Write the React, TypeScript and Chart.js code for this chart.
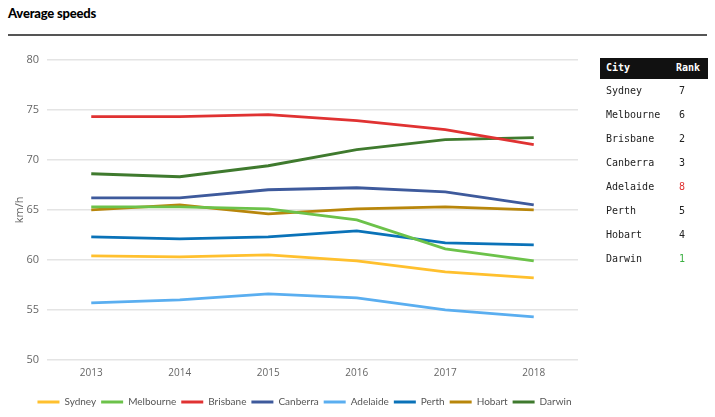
import React, { useEffect, useRef } from "react";
import { Chart, registerables } from "chart.js";

Chart.register(...registerables);

const years = ["2013", "2014", "2015", "2016", "2017", "2018"];
const cities = ["Sydney", "Melbourne", "Brisbane", "Canberra", "Adelaide", "Perth", "Hobart", "Darwin"];
const sydney = [60.4, 60.3, 60.5, 59.9, 58.8, 58.2];
const melbourne = [65.3, 65.3, 65.1, 64.0, 61.1, 59.9];
const brisbane = [74.3, 74.3, 74.5, 73.9, 73.0, 71.5];
const canberra = [66.2, 66.2, 67.0, 67.2, 66.8, 65.5];
const adelaide = [55.7, 56.0, 56.6, 56.2, 55.0, 54.3];
const perth = [62.3, 62.1, 62.3, 62.9, 61.7, 61.5];
const hobart = [65.0, 65.5, 64.6, 65.1, 65.3, 65.0];
const darwin = [68.6, 68.3, 69.4, 71.0, 72.0, 72.2];
const ranks = [7, 6, 2, 3, 8, 5, 4, 1];
const colors = ["#FFC02E", "#6CC24A", "#E03232", "#3E5A9C", "#5AAEF0", "#0A72B8", "#B8860B", "#3F7A2E"];
const yTicks = [50, 55, 60, 65, 70, 75, 80];

const seriesList = [sydney, melbourne, brisbane, canberra, adelaide, perth, hobart, darwin];

const legendShift = {
  id: "legendShift",
  afterLayout(chart: any) {
    const lg = chart.legend;
    if (lg) {
      lg.left += 11;
      lg.right += 11;
      if (lg.adjustHitBoxes) lg.adjustHitBoxes();
    }
  },
};

export default function App() {
  const ref = useRef<HTMLCanvasElement | null>(null);
  useEffect(() => {
    if (!ref.current) return;
    const chart = new Chart(ref.current, {
      type: "line",
      data: {
        labels: years,
        datasets: cities.map((c, i) => ({
          label: c,
          data: seriesList[i],
          borderColor: colors[i],
          backgroundColor: colors[i],
          borderWidth: 2.8,
          pointRadius: 0,
          tension: 0,
          fill: false,
        })),
      },
      plugins: [legendShift],
      options: {
        responsive: false,
        animation: false,
        layout: { padding: { top: 14, left: 9, right: 32, bottom: 0 } },
        plugins: {
          tooltip: { enabled: false },
          legend: {
            position: "bottom",
            labels: {
              boxWidth: 22,
              boxHeight: 3,
              padding: 5,
              color: "#555",
              font: { family: "Lato", size: 10 },
              generateLabels: (ch: any) =>
                ch.data.datasets.map((d: any, i: number) => ({
                  text: d.label,
                  fillStyle: d.borderColor,
                  strokeStyle: d.borderColor,
                  lineWidth: 0,
                  fontColor: "#555",
                  hidden: false,
                  datasetIndex: i,
                })),
            },
          },
        },
        scales: {
          x: {
            offset: true,
            grid: { display: false, drawTicks: false },
            border: { display: false },
            ticks: { color: "#666", padding: 7, font: { family: "Open Sans", size: 10 } },
            afterFit: (s: any) => {
              s.height = 32;
            },
          },
          y: {
            min: 50,
            max: 80,
            afterBuildTicks: (s: any) => {
              s.ticks = yTicks.map((v) => ({ value: v }));
            },
            grid: { color: "#e4e4e4", lineWidth: 1.5, drawTicks: false },
            border: { display: false },
            ticks: { color: "#666", padding: 8, font: { family: "Open Sans", size: 11 } },
            title: { display: true, text: "km/h", color: "#666", font: { family: "Open Sans", size: 11 }, padding: 4 },
            afterFit: (s: any) => {
              s.width = 38;
            },
          },
        },
      },
    });
    return () => chart.destroy();
  }, []);

  return (
    <div style={{ position: "absolute", left: 0, top: 0, width: 715, height: 417, overflow: "hidden", background: "#fff" }}>
      <div style={{ position: "absolute", left: 8, top: 5, fontFamily: "Lato", fontWeight: 900, fontSize: 13, color: "#000", letterSpacing: -0.2 }}>
        Average speeds
      </div>
      <div style={{ position: "absolute", left: 8, top: 34, width: 699, height: 2, background: "#555" }} />
      <canvas ref={ref} width={610} height={372} style={{ position: "absolute", left: 0, top: 45, width: 610, height: 372 }} />
      <div style={{ position: "absolute", left: 600, top: 58, width: 108, fontFamily: "DejaVu Sans Mono", fontSize: 10, color: "#222" }}>
        <div style={{ background: "#111", color: "#fff", fontWeight: "bold", height: 21, position: "relative" }}>
          <span style={{ position: "absolute", left: 6, top: 4 }}>City</span>
          <span style={{ position: "absolute", left: 76, top: 4 }}>Rank</span>
        </div>
        {cities.map((c, i) => (
          <div key={c} style={{ position: "relative", height: 24 }}>
            <span style={{ position: "absolute", left: 6, top: 6 }}>{c}</span>
            <span style={{ position: "absolute", left: 79, top: 6, color: ranks[i] === 8 ? "#E03232" : ranks[i] === 1 ? "#3CB043" : "#222" }}>{ranks[i]}</span>
          </div>
        ))}
      </div>
    </div>
  );
}
